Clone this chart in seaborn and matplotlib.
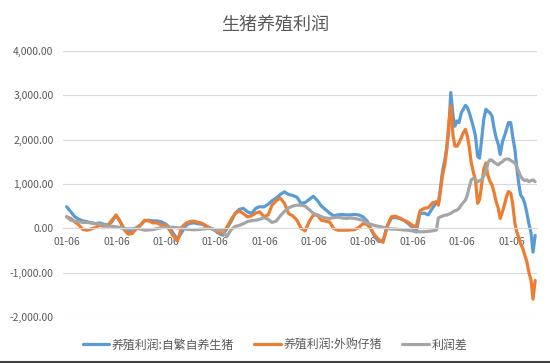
import pandas as pd
import matplotlib.pyplot as plt
import matplotlib.ticker as mticker
from matplotlib.lines import Line2D
import seaborn as sns

# monthly points, 2012-01 .. 2019-07
monthly_dates = pd.date_range('2012-01-01', '2019-07-01', freq='MS')
# semi-monthly points, 2019-07-15 .. 2021-07-01
semi_dates = pd.date_range('2019-07-15', '2021-07-01', freq='SMS')

self_bred_monthly = [
    485, 370, 260, 200, 165, 145, 120, 105, 120, 90, 70, 145,
    295, 145, -10, -85, -60, 15, 70, 165, 180, 165, 165, 145,
    100, 20, -120, -250, -100, 60, 110, 120, 100, 90, 40, 0,
    -45, -120, -160, -10, 145, 333, 424, 447, 370, 333, 447, 485,
    480, 540, 620, 680, 760, 820, 760, 740, 700, 560, 580, 650,
    720, 620, 500, 420, 340, 280, 300, 310, 300, 300, 310, 300,
    260, 170, 0, -200, -300, -280, 50, 230, 240, 220, 180, 110,
    30, -85, 330, 340, 300, 450, 580,
]
bought_monthly = [
    258, 220, 145, 70, -30, -45, -15, 15, 70, 45, 60, 180,
    295, 145, -30, -135, -120, -10, 70, 180, 165, 120, 120, 70,
    80, -40, -180, -290, 20, 110, 150, 160, 130, 110, 50, 0,
    -40, -100, -120, 20, 180, 330, 390, 330, 255, 280, 340, 370,
    260, 300, 520, 620, 680, 560, 330, 280, 180, 0, -60, 150,
    300, 290, 180, 160, 140, -10, -45, -45, -45, -40, -30, 10,
    100, 90, -10, -160, -260, -320, 30, 258, 270, 230, 180, 140,
    70, 30, 390, 450, 460, 570, 600,
]
diff_monthly = [
    258, 180, 160, 145, 130, 130, 120, 105, 90, 70, 45, 45,
    30, 15, -10, -15, -15, 0, -20, -45, -40, -30, -10, 10,
    20, 20, 20, 10, 0, -20, -30, -35, -30, -20, -10, 0,
    -30, -40, -50, -190, -40, 40, 60, 100, 150, 170, 180, 200,
    240, 200, 130, 160, 280, 380, 460, 500, 520, 520, 500, 420,
    330, 300, 260, 230, 220, 240, 250, 230, 220, 230, 220, 200,
    180, 120, 90, 60, 40, 20, 0, -20, -20, -30, -40, -45,
    -60, -80, -80, -80, -70, -60, -40,
]

self_bred_semi = [
    540, 940, 1280, 1545, 1810, 2230, 3060, 2530, 2300, 2420, 2380, 2600,
    2680, 2770, 2720, 2600, 2450, 2265, 2075, 1620, 1580, 2040, 2450, 2680,
    2640, 2600, 2530, 2230, 2040, 1890, 1660, 1950, 2075, 2230, 2380, 2380,
    2075, 1770, 1360, 1015, 750, 675, 560, 333, 106, -120, -540, -160,
]
bought_semi = [
    520, 864, 1200, 1430, 1770, 2380, 2760, 2075, 1850, 1850, 1925, 2040,
    2150, 2230, 2075, 1810, 1470, 1240, 1090, 560, 636, 1015, 1320, 1470,
    1200, 1050, 980, 790, 600, 447, 220, 370, 523, 712, 826, 790,
    560, 106, -85, -200, -350, -460, -610, -765, -990, -1180, -1600, -1180,
]
diff_semi = [
    230, 258, 273, 295, 295, 318, 333, 371, 394, 409, 447, 523,
    576, 636, 750, 940, 1090, 1130, 1090, 1050, 1070, 1100, 1170, 1280,
    1470, 1545, 1530, 1485, 1455, 1430, 1470, 1500, 1545, 1560, 1560, 1530,
    1500, 1470, 1380, 1280, 1170, 1100, 1075, 1090, 1050, 1075, 1090, 1050,
]

series_names = ['养殖利润:自繁自养生猪', '养殖利润:外购仔猪', '利润差']
colors = ['#5B9BD5', '#ED7D31', '#A5A5A5']
tick_years = list(range(2012, 2022))

dates = list(monthly_dates) + list(semi_dates)
frames = []
for name, a, b in zip(series_names,
                      [self_bred_monthly, bought_monthly, diff_monthly],
                      [self_bred_semi, bought_semi, diff_semi]):
    frames.append(pd.DataFrame({'date': dates, 'value': a + b, 'series': name}))
df = pd.concat(frames, ignore_index=True)

sns.set_style('white')
plt.rcParams['font.family'] = ['Noto Sans CJK SC', 'DejaVu Sans']

fig, ax = plt.subplots(figsize=(5.5, 3.63), dpi=100)
fig.subplots_adjust(left=0.115, right=0.976, top=0.86, bottom=0.127)

sns.lineplot(data=df, x='date', y='value', hue='series', hue_order=series_names,
             palette=colors, linewidth=2.3, estimator=None, sort=False, ax=ax)

ax.set_ylim(-2000, 4000)
ax.set_yticks(range(-2000, 4001, 1000))
ax.yaxis.set_major_formatter(mticker.FuncFormatter(lambda v, p: f'{v:,.2f}'))
ax.grid(axis='y', color='#D9D9D9', linewidth=0.8)
ax.set_axisbelow(True)

ax.set_xlim(pd.Timestamp('2011-12-07'), pd.Timestamp('2021-07-13'))
ax.set_xticks([pd.Timestamp(f'{y}-01-06') for y in tick_years])
ax.set_xticklabels(['01-06'] * len(tick_years))

for side in ['top', 'right', 'left']:
    ax.spines[side].set_visible(False)
ax.spines['bottom'].set_position(('data', 0))
ax.spines['bottom'].set_color('#D9D9D9')
ax.spines['bottom'].set_linewidth(0.8)
ax.tick_params(axis='x', colors='#D9D9D9', length=3, width=0.8, pad=3,
               labelcolor='#595959', labelsize=7.5)
ax.tick_params(axis='y', length=0, pad=7, labelcolor='#595959', labelsize=7.5)
ax.set_xlabel('')
ax.set_ylabel('')

handles, labels = ax.get_legend_handles_labels()
ax.get_legend().remove()
leg = fig.legend(handles, labels, loc='center', bbox_to_anchor=(0.5, 1 - 345 / 363),
                 ncol=3, frameon=False, fontsize=8.6, handlelength=2.2,
                 handletextpad=0.25, columnspacing=1.7)
for t in leg.get_texts():
    t.set_color('#595959')

fig.text(0.5, 1 - 25 / 363, '生猪养殖利润', ha='center', va='center',
         fontsize=13, color='#595959')
fig.add_artist(Line2D([0, 1], [0.002, 0.002], transform=fig.transFigure,
                      color='#404040', linewidth=1.5))

plt.savefig('out.png', dpi=100)
plt.close()
